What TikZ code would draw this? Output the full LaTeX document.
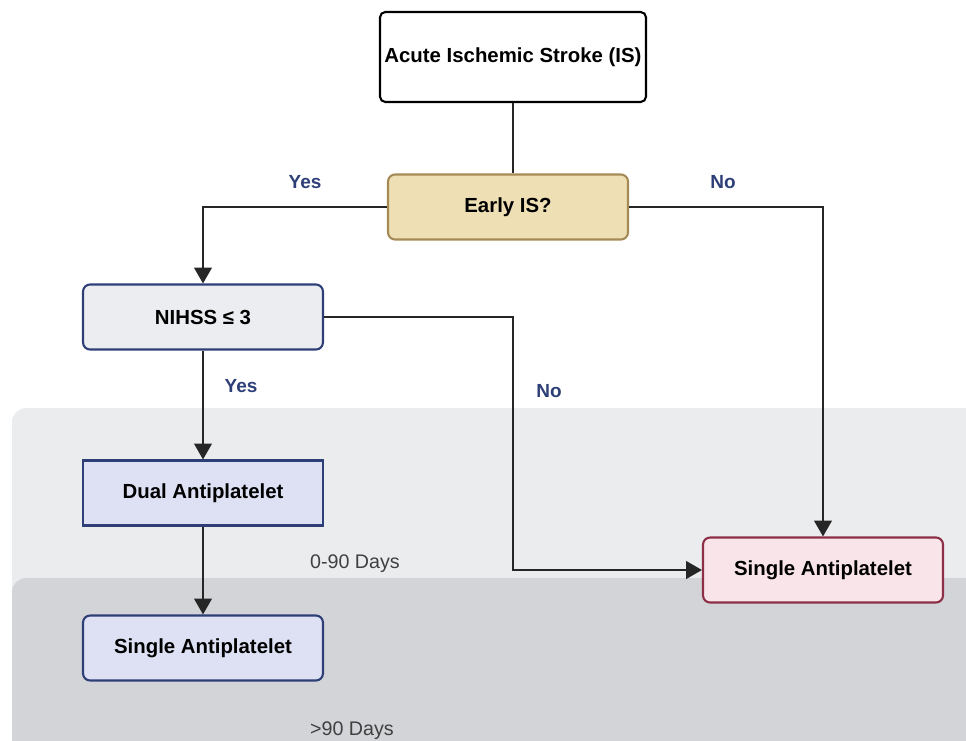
\documentclass[tikz,border=0pt]{standalone}
\usepackage{fontspec}
\setmainfont{Liberation Sans}
\usetikzlibrary{arrows.meta,positioning}
\definecolor{navy}{HTML}{2E3F78}
\definecolor{bandlight}{HTML}{EBECED}
\definecolor{banddark}{HTML}{D3D4D7}
\definecolor{earlyfill}{HTML}{EEDFB5}
\definecolor{earlyline}{HTML}{A68A55}
\definecolor{boxblue}{HTML}{DDE1F3}
\definecolor{boxgrey}{HTML}{ECEDF1}
\definecolor{boxpink}{HTML}{F9E5E9}
\definecolor{pinkline}{HTML}{8C2F47}
\tikzset{
  box/.style={draw, line width=1.2pt, inner sep=0pt, minimum width=4.8cm,
    minimum height=1.3cm, font=\fontsize{11.6}{13}\selectfont\bfseries},
  flow/.style={line width=1.3pt, draw=black!85, -{Triangle[length=9pt,width=10pt]}},
  answer/.style={text=navy, font=\fontsize{10.8}{12}\selectfont\bfseries},
  period/.style={text=black!75, font=\fontsize{11.2}{13}\selectfont}
}
\begin{document}
\begin{tikzpicture}[x=0.02cm, y=-0.02cm]
      \useasboundingbox (0,0) rectangle (966,740);
      % Time bands in the background
      \fill[bandlight, rounded corners=8pt] (12,408) rectangle (1000,600);
      \fill[banddark, rounded corners=8pt] (12,578) rectangle (1000,780);
      \node[period] (shortterm) at (355,564) {0-90 Days};
      \node[period] (longterm) at (352,731) {>90 Days};
      % Decision boxes
      \node[box, fill=white, rounded corners=3pt, minimum width=5.32cm,
        minimum height=1.8cm] (stroke) at (513,57) {Acute Ischemic Stroke (IS)};
      \node[box, fill=earlyfill, draw=earlyline, rounded corners=4pt]
        (early) at (508,207) {Early IS?};
      \node[box, fill=boxgrey, draw=navy, rounded corners=4pt]
        (nihss) at (203,317) {NIHSS ≤ 3};
      % Treatment boxes
      \node[box, fill=boxblue, draw=navy] (dual) at (203,493) {Dual Antiplatelet};
      \node[box, fill=boxblue, draw=navy, rounded corners=4pt]
        (singleleft) at (203,648) {Single Antiplatelet};
      \node[box, fill=boxpink, draw=pinkline, rounded corners=4pt]
        (singleright) at (823,570) {Single Antiplatelet};
      % Connectors
      \draw[line width=1.3pt, black!85] (stroke.south) -- (stroke.south |- early.north);
      \draw[flow] (early.west) -| (nihss.north);
      \draw[flow] (early.east) -| (singleright.north);
      \draw[flow] (nihss.east) -| (513,480) |- (singleright.west);
      \draw[flow] (nihss.south) -- (dual.north);
      \draw[flow] (dual.south) -- (singleleft.north);
      % Yes / No labels
      \node[answer] (yesearly) at (305,182) {Yes};
      \node[answer] (noearly) at (723,182) {No};
      \node[answer] (yesnihss) at (241,386) {Yes};
      \node[answer] (nonihss) at (549,391) {No};
\end{tikzpicture}
\end{document}
